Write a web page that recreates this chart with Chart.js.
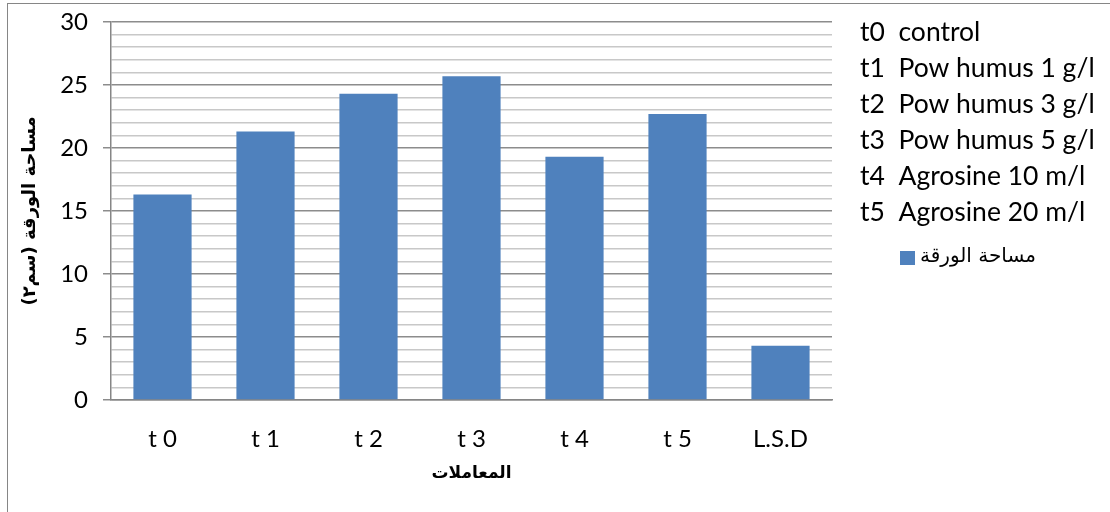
<!DOCTYPE html>
<html>
<head>
<meta charset="utf-8">
<script src="https://cdn.jsdelivr.net/npm/chart.js@4"></script>
<style>
    html, body { margin: 0; padding: 0; background: #fff; }
    #wrap { width: 1110px; height: 512px; position: relative; }
</style>
</head>
<body>
<div id="wrap"><canvas id="leafChart" width="1110" height="512"></canvas></div>
<script>
const categories = ["t 0", "t 1", "t 2", "t 3", "t 4", "t 5", "L.S.D"];
const leafArea = [16.3, 21.3, 24.3, 25.7, 19.3, 22.7, 4.3];
const seriesName = "مساحة الورقة";
const treatments = [
    "t0  control",
    "t1  Pow humus 1 g/l",
    "t2  Pow humus 3 g/l",
    "t3  Pow humus 5 g/l",
    "t4  Agrosine 10 m/l",
    "t5  Agrosine 20 m/l"
];
const yTitle = "مساحة الورقة (سم٢)";
const xTitle = "المعاملات";

const barColor = "#4f81bd";
const fontName = "Lato, 'Liberation Sans', sans-serif";

// frame + treatment key + series key on the right side
const sidePanel = {
    id: "sidePanel",
    beforeDraw(chart) {
        const c = chart.ctx;
        c.save();
        c.fillStyle = "#fff";
        c.fillRect(0, 0, chart.width, chart.height);
        c.strokeStyle = "#868686";
        c.lineWidth = 1;
        c.strokeRect(7.5, 3.5, 1300, 700);
        c.restore();
    },
    afterDraw(chart) {
        const c = chart.ctx;
        c.save();
        c.fillStyle = "#000";
        c.textBaseline = "middle";
        c.textAlign = "left";
        c.font = "26.5px " + fontName;
        treatments.forEach((t, i) => {
            c.fillText(t, 860, 32 + i * 36);
        });
        c.fillStyle = barColor;
        c.fillRect(900, 251, 15, 14);
        c.fillStyle = "#000";
        c.font = "20px 'DejaVu Sans', sans-serif";
        c.direction = "rtl";
        c.textAlign = "left";
        c.fillText(seriesName, 920, 257);
        c.restore();
    }
};

new Chart(document.getElementById("leafChart"), {
    type: "bar",
    data: {
        labels: categories,
        datasets: [{
            label: seriesName,
            data: leafArea,
            backgroundColor: barColor,
            categoryPercentage: 1,
            barPercentage: 0.565
        }]
    },
    options: {
        responsive: false,
        animation: false,
        layout: { padding: { top: 22, right: 278, left: 0, bottom: 0 } },
        plugins: {
            legend: { display: false },
            tooltip: { enabled: false }
        },
        scales: {
            x: {
                afterFit(s) { s.height = 112; },
                grid: { display: false },
                border: { color: "#868686", width: 1.5 },
                ticks: { color: "#000", padding: 17, font: { family: fontName, size: 24 } },
                title: {
                    display: true,
                    text: xTitle,
                    color: "#000",
                    padding: { top: 6, bottom: 28 },
                    font: { family: "'DejaVu Sans', sans-serif", size: 17, weight: "bold" }
                }
            },
            y: {
                min: 0,
                max: 30,
                afterFit(s) {
                    s.width = 111;
                    s.paddingTop = 0;
                    s.paddingBottom = 0;
                },
                border: { color: "#868686", width: 1.5 },
                grid: {
                    color: ctx => ctx.tick && ctx.tick.value % 5 === 0 ? "#8c8c8c" : "#c8c8c8",
                    tickColor: ctx => ctx.tick && ctx.tick.value % 5 === 0 ? "#8c8c8c" : "rgba(0,0,0,0)",
                    lineWidth: 1.5,
                    tickLength: 8
                },
                ticks: {
                    stepSize: 1,
                    autoSkip: false,
                    color: "#000",
                    padding: 15,
                    font: { family: fontName, size: 24 },
                    callback: v => (v % 5 === 0 ? v : "")
                },
                title: {
                    display: true,
                    text: yTitle,
                    color: "#000",
                    padding: { top: 20, bottom: 0 },
                    font: { family: "'DejaVu Sans', sans-serif", size: 18, weight: "bold" }
                }
            }
        }
    },
    plugins: [sidePanel]
});
</script>
</body>
</html>
